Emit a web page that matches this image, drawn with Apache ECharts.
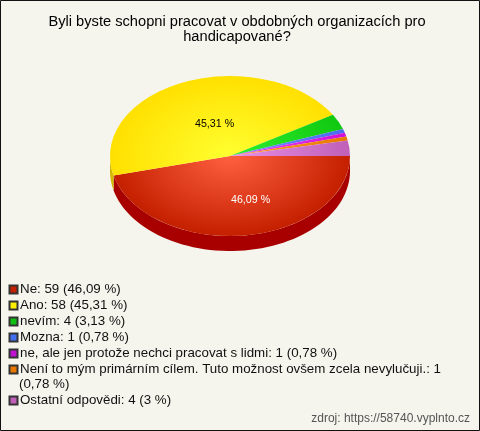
<!DOCTYPE html>
<html><head><meta charset="utf-8">
<style>html,body{margin:0;padding:0;background:#f5f5ee}#c{width:480px;height:431px}</style>
<script src="https://cdn.jsdelivr.net/npm/echarts@6/dist/echarts.min.js"></script>
</head><body><div id="c"></div>
<script>
const categories = ["Ne","Ano","nevím","Mozna","ne, ale jen protože nechci pracovat s lidmi","Není to mým primárním cílem. Tuto možnost ovšem zcela nevylučuji.","Ostatní odpovědi"];
const counts = [59,58,4,1,1,1,4];
const percentLabels = ["46,09 %","45,31 %","3,13 %","0,78 %","0,78 %","0,78 %","3 %"];
const edgeColors = ["#c42000","#ffe000","#10c810","#4a6cf0","#d010d8","#e87800","#c060b8"];
const centerColors = ["#ff6040","#ffff30","#30f030","#7090ff","#f040f8","#ffa030","#e890e8"];
const sideColors = ["#a80000","#d4b800","#0c9c0c","#3050c0","#a000a8","#b85c00","#984890"];
const iconColors = ["#c42000","#ffee00","#10c010","#4070f0","#c010d0","#e87800","#c060b8"];

const CX=230, CY=156, RX=120, RY=80, DEPTH=15;
const total = counts.reduce((a,b)=>a+b,0);
const startAngles=[]; let acc=0;
counts.forEach(v=>{startAngles.push(acc/total*Math.PI*2); acc+=v;});
const labelOffsets={0:[20,43],1:[-15,-33]};
const labelColors={0:"#ffffff",1:"#000000"};

function sideElement(a0,a1,color){
  const s=Math.max(a0,0), e=Math.min(a1,Math.PI);
  if(e<=s) return null;
  const pts=[]; const n=60;
  for(let i=0;i<=n;i++){const t=s+(e-s)*i/n; pts.push([CX+RX*Math.cos(t),CY+RY*Math.sin(t)]);}
  for(let i=n;i>=0;i--){const t=s+(e-s)*i/n; pts.push([CX+RX*Math.cos(t),CY+DEPTH+RY*Math.sin(t)]);}
  return {type:"polygon",shape:{points:pts},style:{fill:color},silent:true};
}
const series=categories.map((name,idx)=>({
  type:"custom",name,coordinateSystem:"none",
  itemStyle:{color:iconColors[idx],borderColor:"#333",borderWidth:1},
  silent:true,animation:false,clip:false,
  z: 2,
  data:[[counts[idx]]],
  renderItem(params,api){
    const a0=startAngles[idx], a1=a0+api.value(0)/total*Math.PI*2;
    const children=[];
    const side=sideElement(a0,a1,sideColors[idx]);
    if(side) children.push(side);
    return {type:"group",children:children.concat([{
      type:"sector",
      shape:{cx:CX,cy:CY,r:RX,r0:0,startAngle:a0,endAngle:a1,clockwise:true},
      originX:CX,originY:CY,scaleY:RY/RX,
      style:{fill:{type:"radial",x:CX,y:CY,r:RX,global:true,colorStops:[{offset:0,color:centerColors[idx]},{offset:1,color:edgeColors[idx]}]}}
    }])};
  }
}));
const legendFormatter = n => { const i=categories.indexOf(n); const wrap=i===5; return n+": "+counts[i]+(wrap?"":" ("+percentLabels[i]+")"); };
const legendBase={orient:"vertical",left:8.5,itemWidth:8,itemHeight:8,itemGap:3,padding:0,icon:"rect",selectedMode:false,
  textStyle:{fontFamily:"Liberation Sans",fontSize:13.33,color:"#111",padding:[0,0,0,-2.5],lineHeight:13},formatter:legendFormatter};
const chart=echarts.init(document.getElementById("c"),null,{renderer:"canvas"});
chart.setOption({
  animation:false,backgroundColor:"#f5f5ee",
  title:{text:"Byli byste schopni pracovat v obdobných organizacích pro\nhandicapované?",left:237,textAlign:"center",top:14,padding:0,
    textStyle:{fontFamily:"Liberation Sans",fontSize:14.67,fontWeight:"normal",color:"#000",lineHeight:15}},
  legend:[
    Object.assign({},legendBase,{top:283,data:categories.slice(0,6)}),
    Object.assign({},legendBase,{top:394,data:categories.slice(6)})
  ],
  series,
  graphic:[
    {type:"rect",silent:true,shape:{x:0.5,y:0.5,width:479,height:430},style:{fill:"none",stroke:"#111",lineWidth:1},z:-1},
    {type:"text",silent:true,left:19,top:378,style:{text:"(0,78 %)",fontFamily:"Liberation Sans",fontSize:13.33,fill:"#111"}},
    {type:"text",silent:true,right:10,top:413,style:{text:"zdroj: https://58740.vyplnto.cz",fontFamily:"Liberation Sans",fontSize:12,fill:"#555"}},
    {type:"text",silent:true,z:20,left:CX+labelOffsets[0][0]-19,top:CY+labelOffsets[0][1]-4,style:{text:percentLabels[0],fontFamily:"Liberation Sans",fontSize:10.67,fill:labelColors[0]}},
    {type:"text",silent:true,z:20,left:CX+labelOffsets[1][0]-20,top:CY+labelOffsets[1][1]-4,style:{text:percentLabels[1],fontFamily:"Liberation Sans",fontSize:10.67,fill:labelColors[1]}}
  ]
});
</script></body></html>
